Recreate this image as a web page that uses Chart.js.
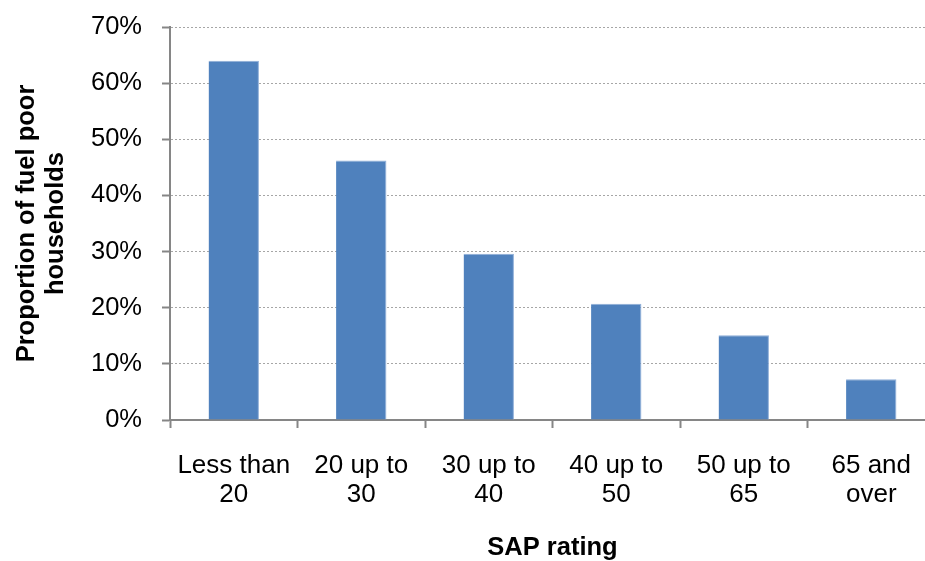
<!DOCTYPE html>
<html>
<head>
<meta charset="utf-8">
<script src="https://cdn.jsdelivr.net/npm/chart.js@4"></script>
<style>
html,body{margin:0;padding:0;overflow:hidden;background:#fff;}
#wrap{position:relative;width:936px;height:561px;}
</style>
</head>
<body>
<div id="wrap"><canvas id="c"></canvas></div>
<script>
const categories = [['Less than','20'],['20 up to','30'],['30 up to','40'],['40 up to','50'],['50 up to','65'],['65 and','over']];
const values = [64.0, 46.2, 29.6, 20.7, 15.1, 7.25];
const yTicks = [0, 10, 20, 30, 40, 50, 60, 70];
const yTitle = ['Proportion of fuel poor', 'households'];
const xTitle = 'SAP rating';

const FONT = '"Liberation Sans", Arial, sans-serif';
const AXIS = '#868686';

new Chart(document.getElementById('c'), {
  type: 'bar',
  data: {
    labels: categories,
    datasets: [{
      data: values,
      backgroundColor: '#4F81BD',
      borderColor: '#8eaed8',
      borderWidth: {top: 1, right: 1, left: 0, bottom: 0},
      borderSkipped: false,
      barPercentage: 0.395,
      categoryPercentage: 1.0
    }]
  },
  options: {
    responsive: true,
    maintainAspectRatio: false,
    animation: false,
    layout: {padding: {top: 27, right: 1, left: 0, bottom: 0}},
    plugins: {legend: {display: false}, tooltip: {enabled: false}},
    scales: {
      x: {
        offset: true,
        grid: {offset: true, drawOnChartArea: false, drawTicks: true, tickLength: 8, tickColor: AXIS, tickWidth: 2},
        border: {color: AXIS, width: 2},
        ticks: {color: '#000', font: {family: FONT, size: 26, lineHeight: 1.12}, padding: 23, maxRotation: 0, autoSkip: false},
        title: {display: true, text: xTitle, color: '#000', font: {family: FONT, size: 25.5, weight: 'bold', lineHeight: 1.0}, padding: {top: 0, bottom: 0}},
        afterFit: s => { s.height = 141; s.paddingLeft = 0; s.paddingRight = 0; }
      },
      y: {
        min: 0, max: 70,
        afterBuildTicks: s => { s.ticks = yTicks.map(v => ({value: v})); },
        grid: {color: '#a6a6a6', lineWidth: 1, drawTicks: true, tickLength: 8, tickColor: AXIS, tickWidth: 2},
        border: {color: AXIS, width: 2, dash: [2, 2]},
        ticks: {color: '#000', font: {family: FONT, size: 25.5}, padding: 20, callback: v => v + '%'},
        title: {display: true, text: yTitle, color: '#000', font: {family: FONT, size: 25.5, weight: 'bold', lineHeight: 1.16}, padding: {top: 12, bottom: 0}},
        afterFit: s => { s.width = 170; s.paddingTop = 0; s.paddingBottom = 0; }
      }
    }
  }
});
</script>
</body>
</html>
